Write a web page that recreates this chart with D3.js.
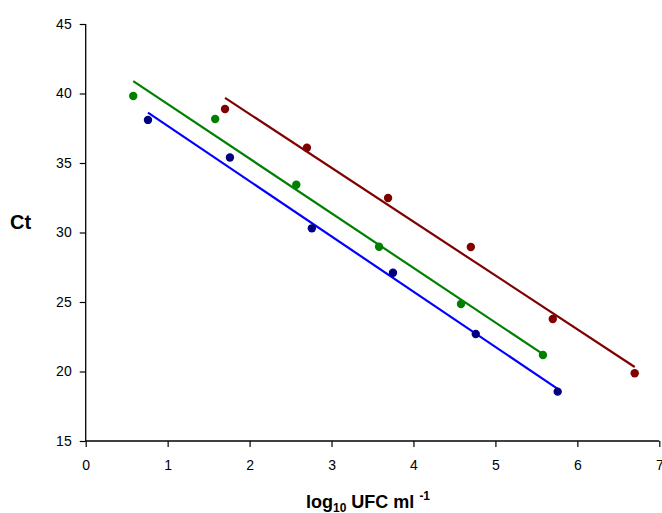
<!DOCTYPE html>
<html><head><meta charset="utf-8">
<script src="https://cdn.jsdelivr.net/npm/d3@7"></script>
<style>body{margin:0;background:#fff}svg{display:block}text{font-family:Arial,"Liberation Sans",sans-serif}</style>
</head><body>
<script>
const xTicks=[0,1,2,3,4,5,6,7];
const yTicks=[15,20,25,30,35,40,45];
const blueX=[0.76,1.76,2.76,3.75,4.76,5.76];
const blueY=[38.1,35.4,30.3,27.1,22.7,18.55];
const greenX=[0.58,1.58,2.57,3.58,4.58,5.58];
const greenY=[39.82,38.17,33.44,28.98,24.86,21.19];
const redX=[1.70,2.70,3.69,4.70,5.70,6.70];
const redY=[38.88,36.1,32.48,28.96,23.78,19.87];
const series=[
 {name:"A",xs:blueX,ys:blueY,line:"#0000ff",dot:"#000080"},
 {name:"B",xs:greenX,ys:greenY,line:"#008000",dot:"#008000"},
 {name:"C",xs:redX,ys:redY,line:"#800000",dot:"#800000"}
];
const W=662,H=513;
const svg=d3.select("body").append("svg").attr("width",W).attr("height",H);
const x=d3.scaleLinear().domain([0,7]).range([85.7,659.3]);
const y=d3.scaleLinear().domain([15,45]).range([441,24]);

const gx=svg.append("g").attr("transform","translate(0,441)")
 .call(d3.axisBottom(x).tickValues(xTicks).tickSize(6).tickPadding(13).tickFormat(d3.format("d")));
const gy=svg.append("g").attr("transform","translate(85.7,0)")
 .call(d3.axisLeft(y).tickValues(yTicks).tickSize(6).tickPadding(8).tickFormat(d3.format("d")));
[gx,gy].forEach(g=>{
 g.select(".domain").attr("stroke","#000").attr("stroke-width",1.3);
 g.selectAll(".tick line").attr("stroke","#000").attr("stroke-width",1.2);
 g.selectAll(".tick text").attr("fill","#000").style("font-size","14px").style("font-family","Arial, 'Liberation Sans', sans-serif");
});
gx.select(".domain").attr("d","M"+x(0)+",0H"+x(7));
gy.select(".domain").attr("d","M0,"+y(15)+"V"+y(45));

series.forEach(s=>{
 const mx=d3.mean(s.xs),my=d3.mean(s.ys);
 let sxy=0,sxx=0;
 s.xs.forEach((v,i)=>{sxy+=(v-mx)*(s.ys[i]-my);sxx+=(v-mx)*(v-mx);});
 const b=sxy/sxx,a=my-b*mx;
 const x0=d3.min(s.xs),x1=d3.max(s.xs);
 svg.append("line").attr("x1",x(x0)).attr("y1",y(a+b*x0)).attr("x2",x(x1)).attr("y2",y(a+b*x1))
  .attr("stroke",s.line).attr("stroke-width",2.2);
});
series.forEach(s=>{
 svg.append("g").selectAll("circle").data(s.xs.map((v,i)=>[v,s.ys[i]])).join("circle")
  .attr("cx",d=>x(d[0])).attr("cy",d=>y(d[1])).attr("r",4.2).attr("fill",s.dot);
});

svg.append("text").attr("x",10).attr("y",229).attr("font-size","20px").attr("font-weight","bold").text("Ct");
const xl=svg.append("text").attr("x",306).attr("y",508).attr("font-size","18px").attr("font-weight","bold");
xl.append("tspan").text("log");
xl.append("tspan").attr("font-size","12px").attr("dy",4).text("10");
xl.append("tspan").attr("dy",-4).text(" UFC ml ");
xl.append("tspan").attr("font-size","12px").attr("dy",-8).text("-1");
</script>
</body></html>
